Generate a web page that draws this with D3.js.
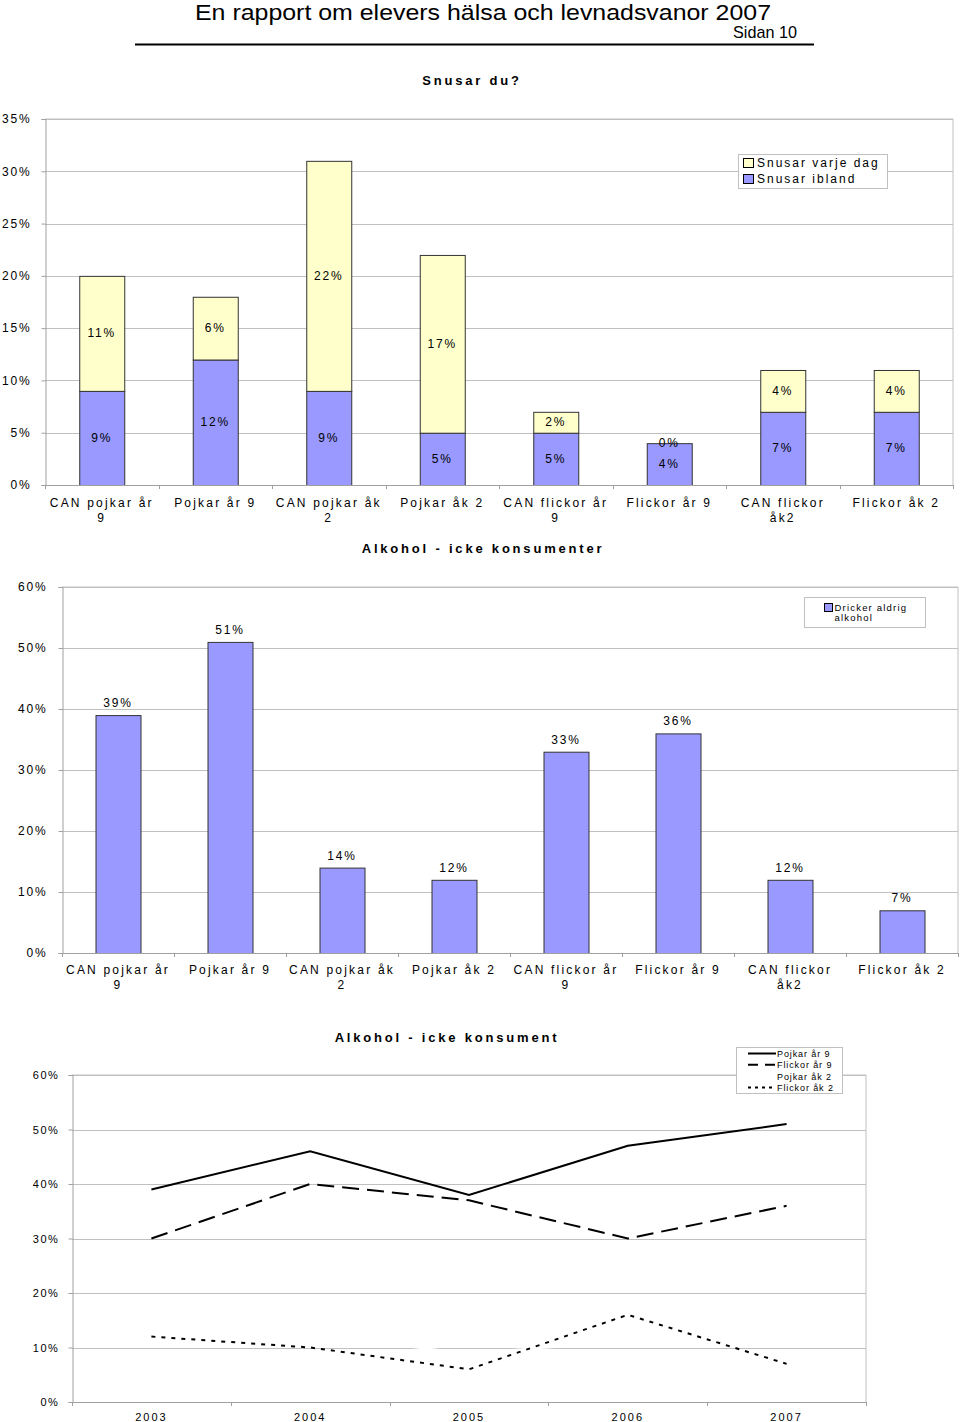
<!DOCTYPE html>
<html><head><meta charset="utf-8">
<script src="https://cdn.jsdelivr.net/npm/d3@7"></script>
<style>
body{margin:0;background:#fff;}
svg{display:block;}
text{font-family:"Liberation Sans",Arial,sans-serif;fill:#000;}
</style></head>
<body>
<svg id="c" width="960" height="1422"></svg>
<script>
// ---------- DATA ----------
const headerTitle = "En rapport om elevers hälsa och levnadsvanor 2007";
const pageLabel = "Sidan 10";

const snusTitle = "Snusar du?";
const snusCategories = ["CAN pojkar år\n9","Pojkar år 9","CAN pojkar åk\n2","Pojkar åk 2","CAN flickor år\n9","Flickor år 9","CAN flickor\nåk2","Flickor åk 2"];
const snusIbland = [9,12,9,5,5,4,7,7];
const snusVarjeDag = [11,6,22,17,2,0,4,4];
const snusSeriesNames = ["Snusar varje dag","Snusar ibland"];
const snusTicks = [0,5,10,15,20,25,30,35];

const alkTitle = "Alkohol - icke konsumenter";
const alkCategories = snusCategories;
const alkValues = [39,51,14,12,33,36,12,7];
const alkSeriesName = ["Dricker aldrig","alkohol"];
const alkTicks = [0,10,20,30,40,50,60];

const trendTitle = "Alkohol - icke konsument";
const trendYears = ["2003","2004","2005","2006","2007"];
const trendPojkarAr9 = [39,46,38,47,51];
const trendFlickorAr9 = [30,40,37,30,36];
const trendPojkarAk2 = [13,12,9,11,12];
const trendFlickorAk2 = [12,10,6,16,7];
const trendNames = ["Pojkar år 9","Flickor år 9","Pojkar åk 2","Flickor åk 2"];
const trendTicks = [0,10,20,30,40,50,60];

// ---------- STYLE ----------
const YELLOW = "#FFFFCC", BLUE = "#9999FF", GRID = "#c0c0c0", AXIS = "#a0a0a0", BARSTROKE = "#333333";
const svg = d3.select("#c");
const pct = v => v + "%";

// Header
svg.append("text").attr("x",483).attr("y",20).attr("text-anchor","middle")
  .attr("font-family","'Liberation Sans Narrow','Liberation Sans',sans-serif")
  .attr("font-size",22).attr("textLength",576).attr("lengthAdjust","spacingAndGlyphs").text(headerTitle);
svg.append("text").attr("x",797).attr("y",38).attr("text-anchor","end")
  .attr("font-family","'Liberation Sans Narrow','Liberation Sans',sans-serif")
  .attr("font-size",17).attr("textLength",64).attr("lengthAdjust","spacingAndGlyphs").text(pageLabel);
svg.append("line").attr("x1",135).attr("x2",814).attr("y1",44.5).attr("y2",44.5)
  .attr("stroke","#000").attr("stroke-width",2);

function title(txt,x,y){
  svg.append("text").attr("x",x).attr("y",y).attr("text-anchor","middle")
    .attr("font-size",13).attr("font-weight","bold").attr("letter-spacing",2.8).text(txt);
}

function frame(g, x0, x1, yTop, yBot){
  g.append("path").attr("d",`M${x0},${yTop}H${x1}V${yBot}`).attr("fill","none").attr("stroke",GRID);
}

function yAxis(g, y, ticks, x0, x1, labelX, fs, ls){
  g.append("g").selectAll("line").data(ticks).join("line")
    .attr("x1",x0).attr("x2",x1).attr("y1",d=>Math.round(y(d))+0.5).attr("y2",d=>Math.round(y(d))+0.5)
    .attr("stroke",GRID);
  const ax = g.append("g").attr("transform",`translate(${x0+0.5},0)`)
    .call(d3.axisLeft(y).tickValues(ticks).tickSize(4).tickFormat(pct).tickPadding(labelX));
  ax.select(".domain").attr("stroke",AXIS);
  ax.selectAll(".tick line").attr("stroke",AXIS);
  ax.selectAll(".tick text").attr("font-size",fs).attr("letter-spacing",ls)
    .attr("font-family","'Liberation Sans',Arial,sans-serif").attr("fill","#000");
}

function xAxisBand(g, x, yBase, x0, x1, labelY, fs, ls, lineH){
  g.append("line").attr("x1",x0).attr("x2",x1).attr("y1",yBase+0.5).attr("y2",yBase+0.5).attr("stroke",AXIS);
  const bounds = x.domain().map(d=>x(d)).concat([x.range()[1]]);
  g.append("g").selectAll("line").data(bounds).join("line")
    .attr("x1",d=>Math.round(d)+0.5).attr("x2",d=>Math.round(d)+0.5).attr("y1",yBase).attr("y2",yBase+4).attr("stroke",AXIS);
  const t = g.append("g").selectAll("text").data(x.domain()).join("text")
    .attr("x",d=>x(d)+x.bandwidth()/2).attr("y",labelY).attr("text-anchor","middle")
    .attr("font-size",fs).attr("letter-spacing",ls);
  t.each(function(d){
    const lines = d.split("\n");
    d3.select(this).selectAll("tspan").data(lines).join("tspan")
      .attr("x",x(d)+x.bandwidth()/2).attr("dy",(l,i)=>i?lineH:0).text(l=>l);
  });
}

// ---------- CHART 1: Snusar du? ----------
{
  const g = svg.append("g");
  const L=45, R=953, T=119, B=485;
  title(snusTitle,472,85);
  const x = d3.scaleBand().domain(snusCategories).range([L,R]);
  const y = d3.scaleLinear().domain([0,35]).range([B,T]);
  frame(g,L,R,T,B);
  yAxis(g,y,snusTicks,L,R,10,12,1.8);
  const bw = 45;
  const stacked = snusCategories.map((c,i)=>({c, a:snusIbland[i], b:snusVarjeDag[i]}));
  const bars = g.append("g");
  bars.selectAll("rect.a").data(stacked).join("rect").attr("class","a")
    .attr("x",d=>x(d.c)+x.bandwidth()/2-bw/2+0.5).attr("width",bw)
    .attr("y",d=>y(d.a)+0.5).attr("height",d=>y(0)-y(d.a))
    .attr("fill",BLUE).attr("stroke",BARSTROKE);
  bars.selectAll("rect.b").data(stacked).join("rect").attr("class","b")
    .attr("x",d=>x(d.c)+x.bandwidth()/2-bw/2+0.5).attr("width",bw)
    .attr("y",d=>y(d.a+d.b)+0.5).attr("height",d=>y(d.a)-y(d.a+d.b))
    .attr("fill",YELLOW).attr("stroke",BARSTROKE);
  const lab = g.append("g");
  lab.selectAll("text.a").data(stacked).join("text")
    .attr("x",d=>x(d.c)+x.bandwidth()/2).attr("y",d=>(y(0)+y(d.a))/2+4)
    .attr("text-anchor","middle").attr("font-size",12).attr("letter-spacing",1.8).text(d=>pct(d.a));
  lab.selectAll("text.b").data(stacked).join("text")
    .attr("x",d=>x(d.c)+x.bandwidth()/2).attr("y",d=>(y(d.a)+y(d.a+d.b))/2+4)
    .attr("text-anchor","middle").attr("font-size",12).attr("letter-spacing",1.8).text(d=>pct(d.b));
  xAxisBand(g,x,B,L,R,507,12,2.2,15);
  const lg = g.append("g").attr("transform","translate(738,154)");
  lg.append("rect").attr("x",0.5).attr("y",0.5).attr("width",149).attr("height",34).attr("fill","#fff").attr("stroke",GRID);
  const cols=[YELLOW,BLUE];
  snusSeriesNames.forEach((n,i)=>{
    lg.append("rect").attr("x",5.5).attr("y",4.5+i*16).attr("width",10).attr("height",9).attr("fill",cols[i]).attr("stroke","#000");
    lg.append("text").attr("x",19).attr("y",13+i*16).attr("font-size",12).attr("letter-spacing",2).text(n);
  });
}

// ---------- CHART 2: Alkohol - icke konsumenter ----------
{
  const g = svg.append("g");
  const L=62, R=958, T=587, B=953;
  title(alkTitle,483,553);
  const x = d3.scaleBand().domain(alkCategories).range([L,R]);
  const y = d3.scaleLinear().domain([0,60]).range([B,T]);
  frame(g,L,R,T,B);
  yAxis(g,y,alkTicks,L,R,11,12,1.8);
  const bw = 45;
  const data = alkCategories.map((c,i)=>({c,v:alkValues[i]}));
  g.append("g").selectAll("rect").data(data).join("rect")
    .attr("x",d=>x(d.c)+x.bandwidth()/2-bw/2+0.5).attr("width",bw)
    .attr("y",d=>y(d.v)+0.5).attr("height",d=>y(0)-y(d.v))
    .attr("fill",BLUE).attr("stroke",BARSTROKE);
  g.append("g").selectAll("text").data(data).join("text")
    .attr("x",d=>x(d.c)+x.bandwidth()/2).attr("y",d=>y(d.v)-8)
    .attr("text-anchor","middle").attr("font-size",12).attr("letter-spacing",1.8).text(d=>pct(d.v));
  xAxisBand(g,x,B,L,R,974,12,2.2,15);
  const lg = g.append("g").attr("transform","translate(804,597)");
  lg.append("rect").attr("x",0.5).attr("y",0.5).attr("width",121).attr("height",30).attr("fill","#fff").attr("stroke",GRID);
  lg.append("rect").attr("x",20.5).attr("y",6.5).attr("width",8).attr("height",8).attr("fill",BLUE).attr("stroke","#000");
  lg.append("text").attr("x",30.5).attr("y",13.5).attr("font-size",9.5).attr("letter-spacing",1.2).text(alkSeriesName[0]);
  lg.append("text").attr("x",30.5).attr("y",24).attr("font-size",9.5).attr("letter-spacing",1.2).text(alkSeriesName[1]);
}

// ---------- CHART 3: Alkohol - icke konsument (trend) ----------
{
  const g = svg.append("g");
  const L=72, R=866, T=1075, B=1402;
  title(trendTitle,447,1042);
  const x = d3.scaleBand().domain(trendYears).range([L,R]);
  const y = d3.scaleLinear().domain([0,60]).range([B,T]);
  frame(g,L,R,T,B);
  yAxis(g,y,trendTicks,L,R,9,11,1.6);
  xAxisBand(g,x,B,L,R,1421,11,2,13);
  const series = [
    {name:trendNames[0], v:trendPojkarAr9, stroke:"#000", dash:null},
    {name:trendNames[1], v:trendFlickorAr9, stroke:"#000", dash:"17,8"},
    {name:trendNames[2], v:trendPojkarAk2, stroke:"#fff", dash:null},
    {name:trendNames[3], v:trendFlickorAk2, stroke:"#000", dash:"4,6"}
  ];
  const line = d3.line().x((d,i)=>x(trendYears[i])+x.bandwidth()/2).y(d=>y(d));
  g.append("g").selectAll("path").data(series).join("path")
    .attr("d",d=>line(d.v)).attr("fill","none").attr("stroke",d=>d.stroke)
    .attr("stroke-width",2).attr("stroke-dasharray",d=>d.dash);
  const lg = g.append("g").attr("transform","translate(736,1047)");
  lg.append("rect").attr("x",0.5).attr("y",0.5).attr("width",106).attr("height",46).attr("fill","#fff").attr("stroke",GRID);
  series.forEach((s,i)=>{
    const yy = 6.5+i*11.3;
    lg.append("line").attr("x1",12).attr("x2",40).attr("y1",yy).attr("y2",yy)
      .attr("stroke",s.stroke).attr("stroke-width",2).attr("stroke-dasharray",s.dash ? (i===1?"10,7":"3,4") : null);
    lg.append("text").attr("x",41).attr("y",yy+3.5).attr("font-size",9).attr("letter-spacing",0.9).text(s.name);
  });
}
</script>
</body></html>
